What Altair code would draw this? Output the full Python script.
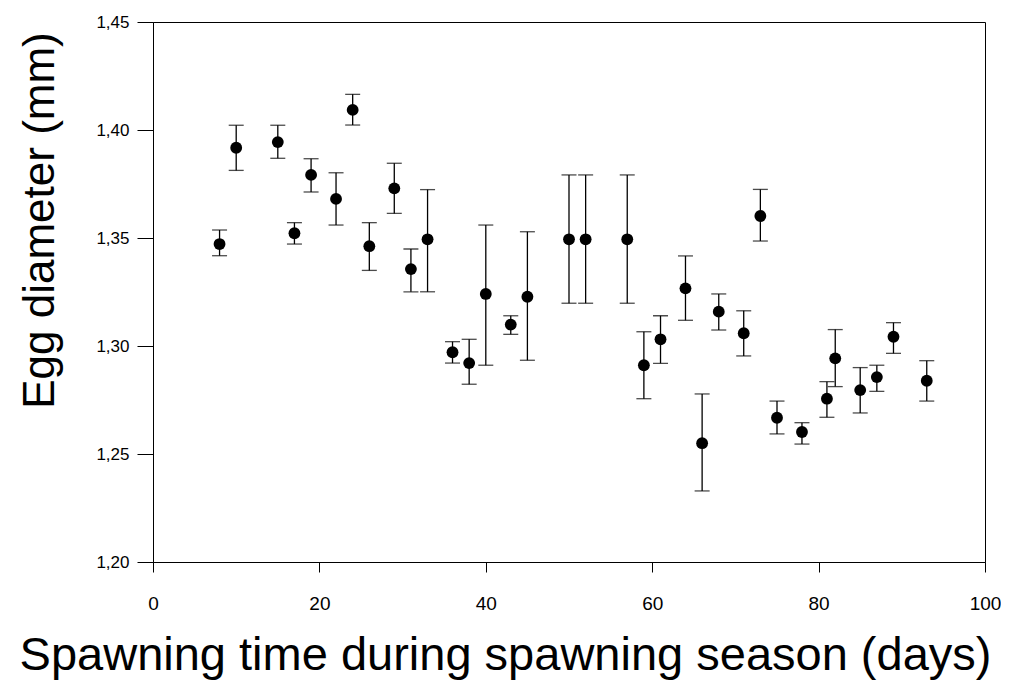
import altair as alt
import pandas as pd

days = [8, 10, 15, 17, 19, 22, 24, 26, 29, 31, 33, 36, 38, 40, 43, 45, 50, 52, 57,
        59, 61, 64, 66, 68, 71, 73, 75, 78, 81, 82, 85, 87, 89, 93]
mean = [1.3472, 1.3918, 1.3944, 1.3522, 1.3792, 1.3681, 1.4093, 1.3462, 1.3730, 1.3356,
        1.3494, 1.2971, 1.2921, 1.3241, 1.3099, 1.3228, 1.3494, 1.3494, 1.3494, 1.2911,
        1.3031, 1.3267, 1.2550, 1.3159, 1.3059, 1.3602, 1.2668, 1.2602, 1.2756, 1.2943,
        1.2796, 1.2856, 1.3043, 1.2839]
upper = [1.3537, 1.4022, 1.4022, 1.3571, 1.3867, 1.3802, 1.4165, 1.3571, 1.3846, 1.3449,
         1.3724, 1.3020, 1.3031, 1.3560, 1.3140, 1.3529, 1.3792, 1.3792, 1.3792, 1.3066,
         1.3140, 1.3417, 1.2778, 1.3241, 1.3163, 1.3725, 1.2745, 1.2645, 1.2835, 1.3076,
         1.2900, 1.2911, 1.3108, 1.2932]
lower = [1.3418, 1.3813, 1.3869, 1.3472, 1.3713, 1.3560, 1.4023, 1.3350, 1.3614, 1.3251,
         1.3251, 1.2921, 1.2823, 1.2911, 1.3054, 1.2934, 1.3198, 1.3198, 1.3198, 1.2756,
         1.2920, 1.3119, 1.2329, 1.3074, 1.2954, 1.3486, 1.2593, 1.2546, 1.2670, 1.2812,
         1.2690, 1.2790, 1.2966, 1.2745]

x_ticks = [0, 20, 40, 60, 80, 100]
y_ticks = [1.20, 1.25, 1.30, 1.35, 1.40, 1.45]

df = pd.DataFrame({"day": days, "mean": mean, "upper": upper, "lower": lower})

FONT = "Liberation Sans"

x_enc = alt.X(
    "day:Q",
    scale=alt.Scale(domain=[0, 100], nice=False, zero=False),
    axis=alt.Axis(
        values=x_ticks, grid=False, domainColor="black", tickColor="black",
        tickSize=10, labelFont=FONT, labelFontSize=19, labelColor="black",
        labelPadding=22, labelFlush=False, labelOverlap=False,
        title="Spawning time during spawning season (days)",
        titleFont=FONT, titleFontSize=47, titleFontWeight="normal", titleColor="black",
        titleX=352, titleY=93, titleAlign="center", titleBaseline="middle",
    ),
)
y_scale = alt.Scale(domain=[1.20, 1.45], nice=False, zero=False)
y_axis = alt.Axis(
    values=y_ticks, grid=False, domainColor="black", tickColor="black",
    tickSize=16, labelFont=FONT, labelFontSize=17, labelColor="black",
    labelPadding=8, labelFlush=False, labelOverlap=False,
    labelExpr="replace(format(datum.value, '.2f'), '.', ',')",
    title="Egg diameter (mm)", titleFont=FONT, titleFontSize=44,
    titleFontWeight="normal", titleColor="black", titleAngle=-90,
    titleX=-113, titleY=198, titleAlign="center", titleBaseline="middle",
)

base = alt.Chart(df)

rules = base.mark_rule(color="black", strokeWidth=1.3).encode(
    x=x_enc,
    y=alt.Y("lower:Q", scale=y_scale, axis=y_axis),
    y2="upper:Q",
)
caps_top = base.mark_tick(color="black", orient="horizontal", size=15, thickness=1.3).encode(
    x="day:Q", y=alt.Y("upper:Q", scale=y_scale)
)
caps_bot = base.mark_tick(color="black", orient="horizontal", size=15, thickness=1.3).encode(
    x="day:Q", y=alt.Y("lower:Q", scale=y_scale)
)
points = base.mark_point(filled=True, shape="circle", size=140, color="black", opacity=1).encode(
    x="day:Q", y=alt.Y("mean:Q", scale=y_scale)
)

chart = (
    alt.layer(rules, caps_top, caps_bot, points)
    .properties(
        width=832, height=540,
        autosize=alt.AutoSizeParams(type="none"),
        padding={"left": 145, "top": 14, "right": 16, "bottom": 118},
        background="white",
    )
    .configure_view(stroke="black", strokeWidth=1)
)

chart.save("out.html", embed_options={"renderer": "svg", "actions": False})
